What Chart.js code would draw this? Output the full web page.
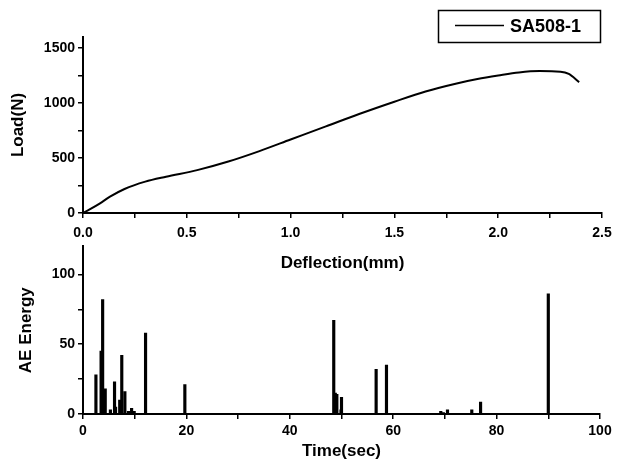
<!DOCTYPE html>
<html lang="en">
<head>
  <meta charset="UTF-8" />
  <title>SA508-1 Load and AE Energy</title>
  <script src="https://cdn.jsdelivr.net/npm/chart.js"></script>
  <style>
    body {
      margin: 0;
      background: #fff;
    }
    #wrap {
      position: relative;
      width: 624px;
      height: 470px;
    }
    .box {
      position: absolute;
      left: 0;
      width: 624px;
    }
    #topBox { top: 0; height: 278px; }
    #bottomBox { top: 235px; height: 235px; }
  </style>
</head>
<body>

  <div id="wrap">
    <div class="box" id="topBox"><canvas id="loadChart"></canvas></div>
    <div class="box" id="bottomBox"><canvas id="aeChart"></canvas></div>
  </div>

  <script>
    // load vs deflection curve
    const deflection = [0, 0.03, 0.08, 0.13, 0.2, 0.3, 0.4, 0.55, 0.7, 0.85, 1.0, 1.17, 1.33, 1.5, 1.65, 1.8, 1.9, 2.0, 2.1, 2.2, 2.3, 2.34, 2.39];
    const load = [0, 30, 85, 148, 218, 285, 330, 390, 468, 563, 668, 787, 900, 1012, 1105, 1178, 1218, 1250, 1278, 1290, 1285, 1265, 1190];
    const seriesName = 'SA508-1';

    // AE energy hits
    const aeTime = [2.5, 3.5, 3.8, 4.3, 5.3, 6.1, 6.3, 7.1, 7.5, 8.1, 8.8, 9.4, 9.9, 12.1, 19.7,
                    48.5, 48.8, 49.1, 49.9, 50.0, 56.7, 58.7, 69.2, 69.7, 70.5, 75.2, 76.9, 90.0];
    const aeEnergy = [28, 45, 82, 18, 3, 23, 5, 10, 42, 16, 2, 4, 2, 58, 21,
                      67, 15, 14, 3, 12, 32, 35, 2, 1, 3, 3, 8.5, 86];

    // ticks (blank label = minor tick)
    const deflTicks = [0, 0.25, 0.5, 0.75, 1, 1.25, 1.5, 1.75, 2, 2.25, 2.5];
    const deflLabels = ['0.0', '', '0.5', '', '1.0', '', '1.5', '', '2.0', '', '2.5'];
    const loadTicks = [0, 250, 500, 750, 1000, 1250, 1500];
    const loadLabels = ['0', '', '500', '', '1000', '', '1500'];
    const timeTicks = [0, 10, 20, 30, 40, 50, 60, 70, 80, 90, 100];
    const timeLabels = ['0', '', '20', '', '40', '', '60', '', '80', '', '100'];
    const aeTicks = [0, 25, 50, 75, 100];
    const aeLabels = ['0', '', '50', '', '100'];

    Chart.defaults.color = '#000';
    Chart.defaults.font.family = '"Liberation Sans", Arial, sans-serif';
    Chart.defaults.font.weight = 'bold';

    const titleFont = { size: 17, weight: 'bold' };

    function axis(vals, labels, extra, pad) {
      return Object.assign({
        type: 'linear',
        offset: false,
        border: { color: '#000', width: 2 },
        grid: { drawOnChartArea: false, color: '#000', tickLength: 5, lineWidth: 1.5, offset: false },
        afterBuildTicks: s => { s.ticks = vals.map(v => ({ value: v })); },
        ticks: {
          font: { size: 14, weight: 'bold' },
          padding: pad,
          maxRotation: 0,
          autoSkip: false,
          callback: (v, i) => labels[i]
        }
      }, extra);
    }

    const legendBox = {
      id: 'legendBox',
      afterDraw(chart) {
        const c = chart.ctx;
        c.save();
        c.strokeStyle = '#000';
        c.lineWidth = 1.5;
        c.strokeRect(438.5, 10.5, 162, 32);
        c.beginPath();
        c.moveTo(455, 25.5);
        c.lineTo(504, 25.5);
        c.lineWidth = 1.5;
        c.stroke();
        c.fillStyle = '#000';
        c.font = 'bold 18px "Liberation Sans", Arial, sans-serif';
        c.textBaseline = 'middle';
        c.fillText(chart.data.datasets[0].label, 510, 27);
        c.restore();
      }
    };

    new Chart(document.getElementById('loadChart'), {
      type: 'line',
      data: {
        datasets: [{
          label: seriesName,
          data: deflection.map((d, i) => ({ x: d, y: load[i] })),
          borderColor: '#000',
          borderWidth: 2,
          pointRadius: 0,
          cubicInterpolationMode: 'monotone',
          fill: false
        }]
      },
      options: {
        responsive: true,
        maintainAspectRatio: false,
        animation: false,
        layout: { padding: { left: 4, right: 22, top: 37, bottom: 0 } },
        plugins: { legend: { display: false }, tooltip: { enabled: false } },
        scales: {
          x: axis(deflTicks, deflLabels, {
            min: 0, max: 2.5,
            afterFit: s => { s.height = 65; },
            title: { display: true, text: 'Deflection(mm)', font: titleFont, padding: { top: 4, bottom: 4 } }
          }, 7),
          y: axis(loadTicks, loadLabels, {
            min: 0, max: 1600,
            afterFit: s => { s.width = 79; },
            title: { display: true, text: 'Load(N)', font: titleFont, padding: { top: 4, bottom: 4 } }
          }, 3)
        }
      },
      plugins: [legendBox]
    });

    new Chart(document.getElementById('aeChart'), {
      type: 'bar',
      data: {
        datasets: [{
          label: 'AE Energy',
          data: aeTime.map((t, i) => ({ x: t, y: aeEnergy[i] })),
          backgroundColor: '#000',
          borderWidth: 0,
          barThickness: 2.5
        }]
      },
      options: {
        responsive: true,
        maintainAspectRatio: false,
        animation: false,
        layout: { padding: { left: 12, right: 24, top: 4, bottom: 4 } },
        plugins: { legend: { display: false }, tooltip: { enabled: false } },
        scales: {
          x: axis(timeTicks, timeLabels, {
            min: 0, max: 100,
            afterFit: s => { s.height = 52; },
            title: { display: true, text: 'Time(sec)', font: titleFont, padding: { top: 4, bottom: 4 } }
          }, 4),
          y: axis(aeTicks, aeLabels, {
            min: 0, max: 120,
            afterFit: s => { s.width = 71; },
            title: { display: true, text: 'AE Energy', font: titleFont, padding: { top: 4, bottom: 4 } }
          }, 3)
        }
      }
    });
  </script>

</body>
</html>
